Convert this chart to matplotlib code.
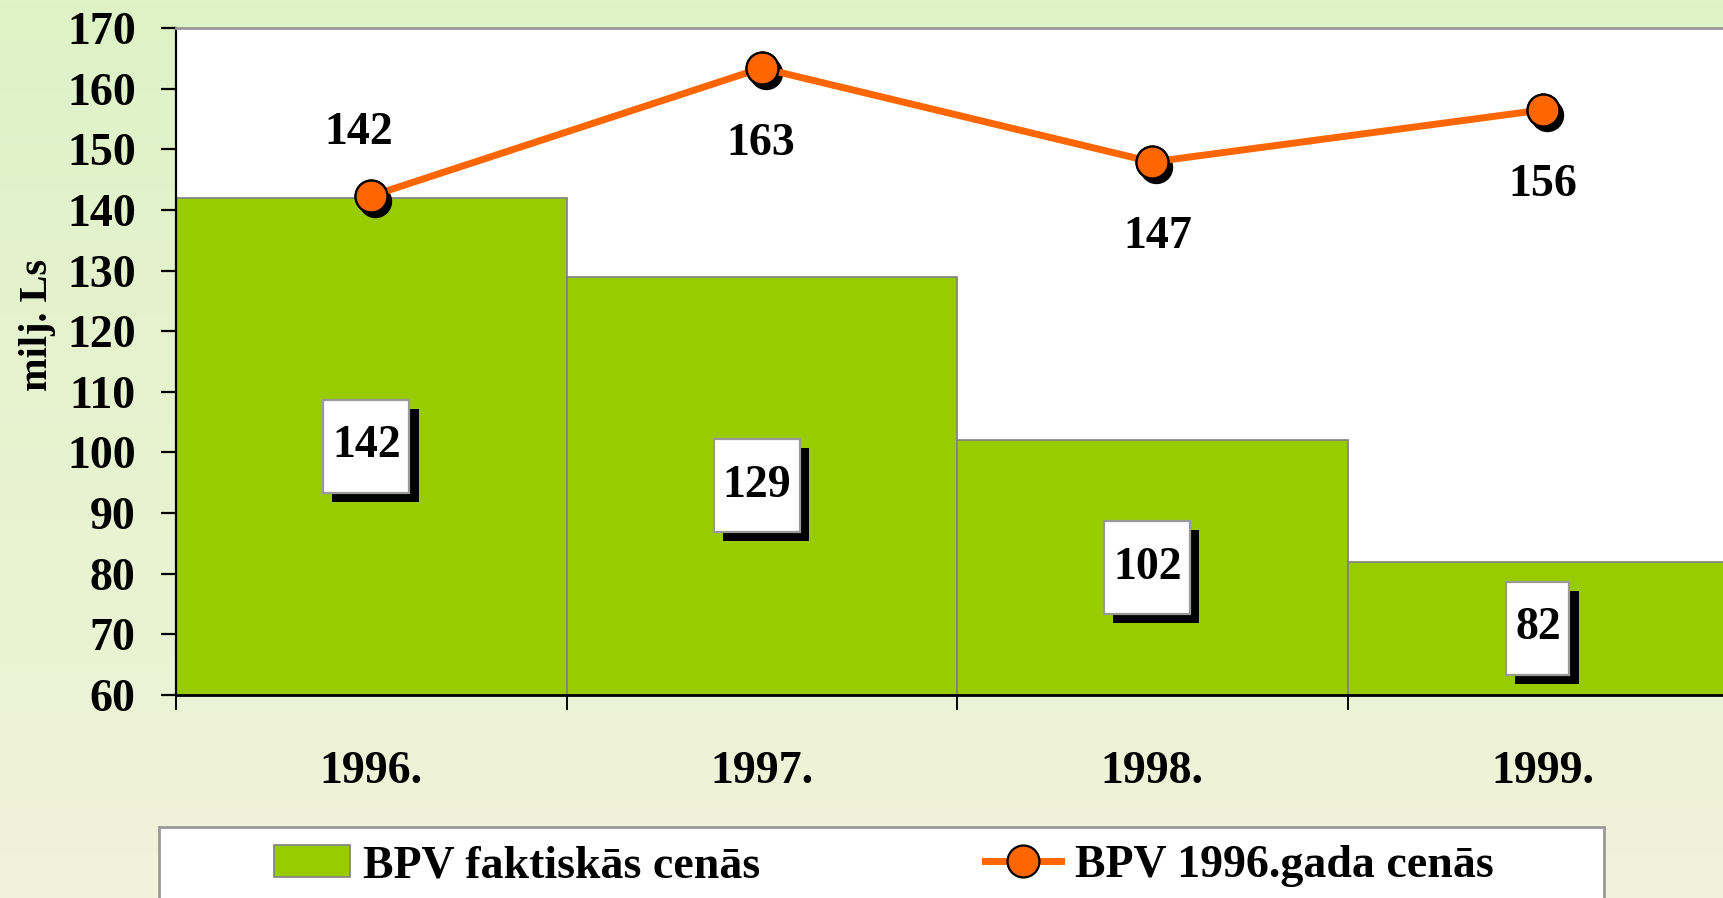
import matplotlib

matplotlib.use("Agg")
import matplotlib.pyplot as plt
import matplotlib.patheffects as pe
import matplotlib.transforms as mtransforms
from matplotlib import patches
from matplotlib.colors import LinearSegmentedColormap
from matplotlib.path import Path
import numpy as np


years = ["1996.", "1997.", "1998.", "1999."]
bar_values = [142, 129, 102, 82]
line_values = [142.3, 163.4, 147.9, 156.5]
line_labels = ["142", "163", "147", "156"]
y_ticks = [60, 70, 80, 90, 100, 110, 120, 130, 140, 150, 160, 170]
series_names = ["BPV faktiskās cenās", "BPV 1996.gada cenās"]
y_title = "milj. Ls"

W, H = 1723, 898
GREEN = "#99CC00"
ORANGE = "#FF6600"
FONT = "Liberation Serif"
FS = 33


def label_box(x0, y0, width, height, mutation_size):
    # wider on top/bottom than on the sides, like the source labels
    px = 0.19 * mutation_size
    py = 0.56 * mutation_size
    verts = [
        (x0 - px, y0 - py),
        (x0 + width + px, y0 - py),
        (x0 + width + px, y0 + height + py),
        (x0 - px, y0 + height + py),
        (x0 - px, y0 - py),
    ]
    codes = [Path.MOVETO, Path.LINETO, Path.LINETO, Path.LINETO, Path.CLOSEPOLY]
    return Path(verts, codes)


plt.rcParams["font.family"] = FONT
plt.rcParams["font.weight"] = "bold"

fig = plt.figure(figsize=(W / 100, H / 100), dpi=100)

# background gradient
bg = fig.add_axes([0, 0, 1, 1], zorder=-10)
grad = np.linspace(0, 1, 256).reshape(-1, 1)
cmap = LinearSegmentedColormap.from_list("bg", ["#DEF3C6", "#F1F2DA"])
bg.imshow(grad, aspect="auto", extent=[0, 1, 0, 1], cmap=cmap, origin="upper")
bg.set_axis_off()

ax = fig.add_axes([176 / W, (H - 695) / H, (1738 - 176) / W, (695 - 28) / H])
ax.set_facecolor("white")

x = np.arange(len(years))
bars = ax.bar(x, bar_values, width=1.0, color=GREEN, edgecolor="#808080", linewidth=1.2, zorder=2)

(line,) = ax.plot(x, line_values, color=ORANGE, lw=5, zorder=3,
                  marker="o", markersize=23, markerfacecolor=ORANGE,
                  markeredgecolor="black", markeredgewidth=1.6)
shadow_tr = ax.transData + mtransforms.ScaledTranslation(4 / 100, -5 / 100, fig.dpi_scale_trans)
ax.plot(x, line_values, ls="none", marker="o", markersize=23, color="black",
        transform=shadow_tr, zorder=2.9)
ax.plot(x, line_values, ls="none", marker="o", markersize=23, markerfacecolor=ORANGE,
        markeredgecolor="black", markeredgewidth=1.6, zorder=4)

# line value labels: first above the point, the rest below
label_shift = [(-9, 45), (-1, -55), (4, -54), (0, -54)]
for i, (v, lab) in enumerate(zip(line_values, line_labels)):
    ax.annotate(lab, (x[i], v), xytext=label_shift[i], textcoords="offset points",
                ha="center", va="center", fontsize=FS, fontweight="bold", zorder=5)

# bar value labels in white boxes with a hard black shadow
for i, v in enumerate(bar_values):
    ymid = (y_ticks[0] + v) / 2
    t = ax.annotate(str(v), (x[i], ymid), xytext=(-3.5, 0), textcoords="offset points",
                    ha="center", va="center", fontsize=FS, fontweight="bold", color="black",
                    bbox=dict(boxstyle=label_box, fc="white", ec="#999999", lw=1.6), zorder=6)
    t.get_bbox_patch().set_path_effects([
        pe.SimplePatchShadow(offset=(6.5, -6.5), shadow_rgbFace="black", alpha=1.0),
        pe.Normal(),
    ])

ax.set_xlim(-0.5, len(years) - 0.5)
ax.set_ylim(y_ticks[0], y_ticks[-1])
ax.set_yticks(y_ticks)
ax.set_yticklabels([str(t) for t in y_ticks], fontsize=FS, fontweight="bold")
ax.set_xticks(x)
ax.set_xticklabels(years, fontsize=FS, fontweight="bold")
ax.set_xticks(np.arange(len(years)) - 0.5, minor=True)
ax.tick_params(axis="x", which="major", length=0, pad=40)
ax.tick_params(axis="x", which="minor", length=11, width=1.4, direction="out")
ax.tick_params(axis="y", length=11, width=1.6, direction="out", pad=18)

ax.spines["right"].set_visible(False)
ax.spines["top"].set_color("#999999")
ax.spines["top"].set_linewidth(2)
ax.spines["left"].set_linewidth(1.6)
ax.spines["bottom"].set_linewidth(2)

ax.set_ylabel(y_title, fontsize=29, fontweight="bold")
ax.yaxis.set_label_coords((56 - 176) / (1738 - 176), (695 - 325) / (695 - 28))

# legend frame runs off the bottom of the picture
frame = patches.Rectangle((159 / W, -0.05), (1604 - 159) / W, (H - 827) / H + 0.05,
                          transform=fig.transFigure, facecolor="white",
                          edgecolor="#999999", linewidth=2, zorder=1)
fig.add_artist(frame)
leg = fig.legend([bars, line], series_names, loc="center left",
                 bbox_to_anchor=(274 / W, 1 - 866 / H), frameon=False, ncol=2,
                 borderpad=0, borderaxespad=0, handlelength=1.65, handletextpad=0.3,
                 columnspacing=4.9, prop=dict(family=FONT, weight="bold", size=FS))
leg.set_zorder(2)

fig.savefig("out.png", dpi=100)
